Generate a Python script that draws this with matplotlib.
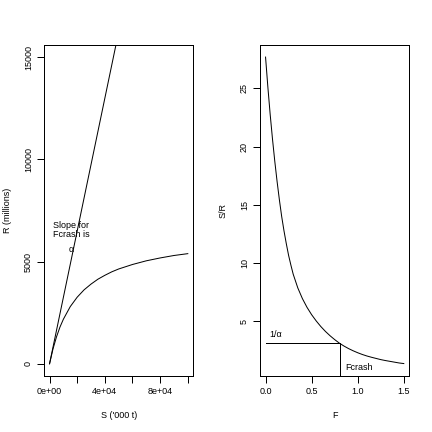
import matplotlib
matplotlib.use("Agg")
import matplotlib.pyplot as plt

# Werte aus dem Bild abgelesen
# linkes Bild: Bestand-Rekrutierung
S_werte = [0, 2500, 5000, 7500, 10000, 15000, 20000, 25000, 30000, 35000,
           40000, 45000, 50000, 60000, 70000, 80000, 90000, 100000]
R_werte = [0, 730, 1310, 1790, 2180, 2800, 3260, 3620, 3900, 4140,
           4330, 4500, 4640, 4860, 5040, 5180, 5300, 5390]
alpha = 0.325          # Steigung der Geraden durch den Ursprung
S_gerade = [0, 100000]

# rechtes Bild: S/R gegen F
F_werte = [0.000, 0.025, 0.050, 0.075, 0.100, 0.125, 0.150, 0.175, 0.200,
           0.225, 0.250, 0.275, 0.30, 0.35, 0.40, 0.45, 0.50, 0.55, 0.60,
           0.65, 0.70, 0.75, 0.80, 0.85, 0.90, 0.95, 1.00, 1.05, 1.10,
           1.15, 1.20, 1.25, 1.30, 1.35, 1.40, 1.45, 1.50]
SR_werte = [27.69, 25.12, 22.78, 20.67, 18.75, 17.01, 15.43, 13.99, 12.76,
            11.66, 10.65, 9.81, 9.03, 7.85, 6.93, 6.18, 5.55, 5.01, 4.53,
            4.11, 3.74, 3.41, 3.11, 2.86, 2.64, 2.45, 2.28, 2.13, 2.00,
            1.89, 1.79, 1.69, 1.61, 1.54, 1.47, 1.40, 1.35]
Fcrash = 0.804

x_ticks_links = [0, 20000, 40000, 60000, 80000, 100000]
x_labels_links = ["0e+00", "", "4e+04", "", "8e+04", ""]
y_ticks_links = [0, 5000, 10000, 15000]
x_ticks_rechts = [0.0, 0.5, 1.0, 1.5]
y_ticks_rechts = [5, 10, 15, 20, 25]

plt.rcParams['font.family'] = ['Liberation Sans', 'DejaVu Sans']
plt.rcParams['font.size'] = 9

fig = plt.figure(figsize=(6, 6), dpi=72)
ax1 = fig.add_axes([0.1019, 0.1296, 0.3456, 0.766])
ax2 = fig.add_axes([0.6019, 0.1296, 0.3456, 0.766])

# linkes Bild
ax1.plot(S_werte, R_werte, color="black", lw=1)
ax1.plot(S_gerade, [alpha * s for s in S_gerade], color="black", lw=1)
ax1.set_xlim(-4000, 104000)
ax1.set_ylim(-600, 15600)
ax1.set_xticks(x_ticks_links)
ax1.set_xticklabels(x_labels_links)
ax1.set_yticks(y_ticks_links)
ax1.set_yticklabels([str(v) for v in y_ticks_links])
ax1.set_xlabel("S ('000 t)", labelpad=15)
ax1.set_ylabel("R (millions)", labelpad=12)
ax1.text(15700, 6535, "Slope for\nFcrash is", ha="center", va="center",
         linespacing=1.05)
ax1.text(15700, 5603, "α", ha="center", va="center")

# rechtes Bild
ax2.plot(F_werte, SR_werte, color="black", lw=1)
ax2.plot([0, Fcrash], [1 / alpha, 1 / alpha], color="black", lw=1)
ax2.plot([Fcrash, Fcrash], [0, 1 / alpha], color="black", lw=1)
ax2.set_xlim(-0.06, 1.56)
ax2.set_ylim(0.28, 28.72)
ax2.set_xticks(x_ticks_rechts)
ax2.set_xticklabels(["0.0", "0.5", "1.0", "1.5"])
ax2.set_yticks(y_ticks_rechts)
ax2.set_xlabel("F", labelpad=15)
ax2.set_ylabel("S/R", labelpad=12)
ax2.text(0.105, 3.83, "1/α", ha="center", va="center")
ax2.text(1.011, 0.97, "Fcrash", ha="center", va="center")

# Achsen im R-Stil
for ax in (ax1, ax2):
    for sp in ax.spines.values():
        sp.set_linewidth(1)
    ax.tick_params(direction="out", length=7, width=1, pad=4)
    ax.tick_params(axis="y", labelrotation=90)
    for lab in ax.get_yticklabels():
        lab.set_va("center")

fig.savefig("out.png", dpi=72)
plt.close()
